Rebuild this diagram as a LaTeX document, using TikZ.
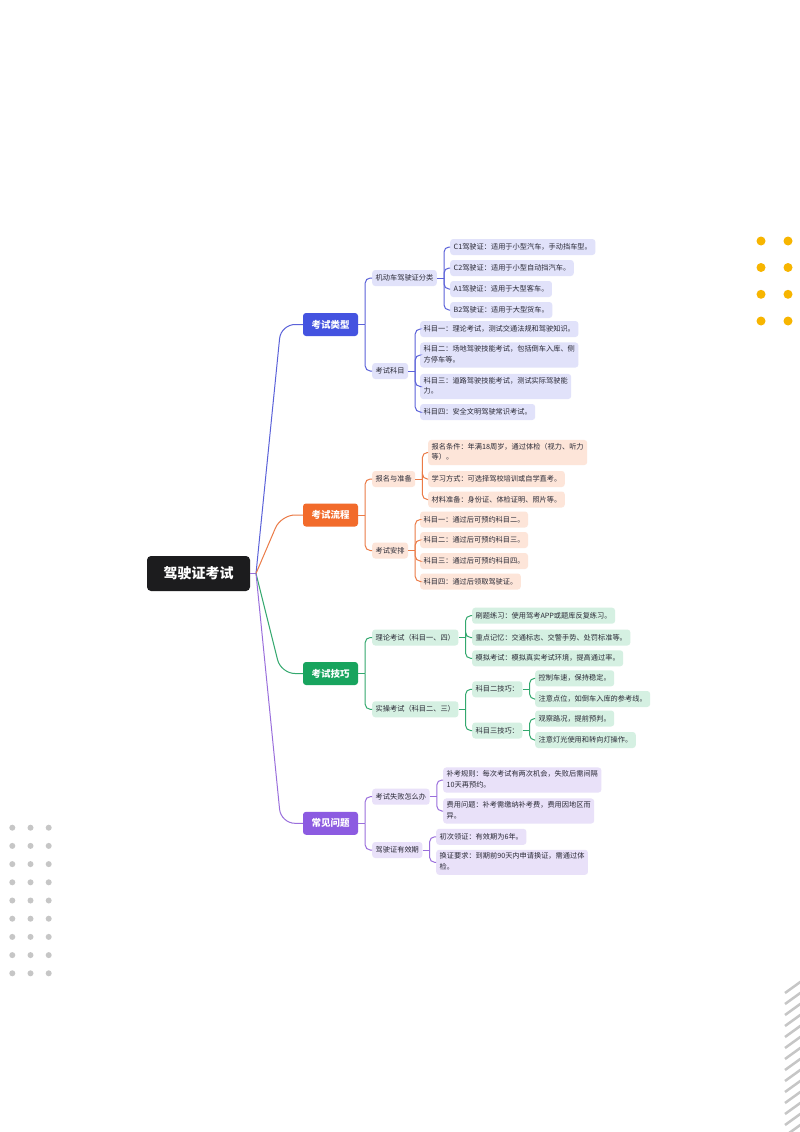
\documentclass[tikz,border=0pt]{standalone}
\usepackage{fontspec}
\setmainfont{Noto Sans CJK SC}
\usetikzlibrary{calc}
\definecolor{rootc}{HTML}{1C1C1E}
\definecolor{txt}{HTML}{2A2A36}
\definecolor{cB}{HTML}{4453E0}
\definecolor{cBl}{HTML}{5B62D9}
\definecolor{cBf}{HTML}{E1E2FA}
\definecolor{cO}{HTML}{F26B2B}
\definecolor{cOl}{HTML}{EB7B47}
\definecolor{cOf}{HTML}{FDE5D9}
\definecolor{cG}{HTML}{18A45E}
\definecolor{cGl}{HTML}{33A86E}
\definecolor{cGf}{HTML}{D5F0E2}
\definecolor{cP}{HTML}{8C5BE1}
\definecolor{cPl}{HTML}{9A6FDC}
\definecolor{cPf}{HTML}{E9E1F9}
\definecolor{dotY}{HTML}{F7B500}
\definecolor{dotG}{HTML}{C6C6C6}
\newcommand\lstrut{\rule[-2.5pt]{0pt}{10pt}}
\tikzset{
  rootbox/.style={fill=rootc, text=white, rounded corners=4pt, minimum width=103pt, minimum height=35pt, inner sep=0pt, font=\fontsize{14}{16}\selectfont\bfseries},
  lone/.style={rounded corners=3pt, minimum width=55pt, minimum height=23pt, inner sep=0pt, text=white, font=\fontsize{9.5}{11}\selectfont\bfseries},
  leaf/.style={rounded corners=3pt, anchor=west, align=left, inner xsep=3.5pt, inner ysep=3pt, text=txt, font=\fontsize{7.2}{10.5}\selectfont, execute at begin node=\lstrut, execute at end node=\lstrut},
  bl/.style={leaf, fill=cBf},
  ol/.style={leaf, fill=cOf},
  gl/.style={leaf, fill=cGf},
  pl/.style={leaf, fill=cPf},
  conn/.style={line width=1pt},
  elbow/.style={line width=1pt, rounded corners=5pt},
  rootconn/.style={line width=1pt, rounded corners=14pt},
}
\begin{document}
\begin{tikzpicture}[x=1pt,y=-1pt]
\useasboundingbox (0,0) rectangle (800,1132);
\fill[white] (0,0) rectangle (800,1132);

% decorations
\foreach \yy in {241,267.5,294.3,321}{
  \foreach \xx in {761,788}{ \fill[dotY] (\xx,\yy) circle (4.5pt); }
}
\foreach \i in {0,...,8}{
  \foreach \xx in {12.3,30.5,48.7}{ \fill[dotG] (\xx,{827.7+18.2*\i}) circle (3pt); }
}
\begin{scope}
\clip (770,970) rectangle (800,1132);
\foreach \i in {0,...,13}{
  \draw[dotG, line width=2.5pt] (785,{993+11*\i}) -- (803,{980+11*\i});
}
\end{scope}

% root
\node[rootbox] (root) at (198.5,573.5) {驾驶证考试};
\coordinate (rj) at (256,573.5);
\draw[conn, cPl] (root.east) -- (rj);

% level 1
\node[lone, fill=cB] (t1) at (330.5,324.5) {考试类型};
\node[lone, fill=cO] (t2) at (330.5,515) {考试流程};
\node[lone, fill=cG] (t3) at (330.5,673.5) {考试技巧};
\node[lone, fill=cP] (t4) at (330.5,823.3) {常见问题};

\draw[rootconn, cBl] (rj) -- (281,324.5) -- (t1.west);
\draw[rootconn, cOl] (rj) -- (281,515) -- (t2.west);
\draw[rootconn, cGl] (rj) -- (281,673.5) -- (t3.west);
\draw[rootconn, cPl] (rj) -- (281,823.3) -- (t4.west);

% ===== blue =====
\node[bl] (t1a) at (372,278) {机动车驾驶证分类};
\node[bl] (t1b) at (372,371) {考试科目};
\node[bl] (t1a1) at (450,247) {C1驾驶证：适用于小型汽车，手动挡车型。};
\node[bl] (t1a2) at (450,268) {C2驾驶证：适用于小型自动挡汽车。};
\node[bl] (t1a3) at (450,289) {A1驾驶证：适用于大型客车。};
\node[bl] (t1a4) at (450,310) {B2驾驶证：适用于大型货车。};
\node[bl] (t1b1) at (420,329) {科目一：理论考试，测试交通法规和驾驶知识。};
\node[bl] (t1b2) at (420,355) {科目二：场地驾驶技能考试，包括倒车入库、侧\\方停车等。};
\node[bl] (t1b3) at (420,386.5) {科目三：道路驾驶技能考试，测试实际驾驶能\\力。};
\node[bl] (t1b4) at (420,412) {科目四：安全文明驾驶常识考试。};

\coordinate (j1) at ($(t1.east)+(7,0)$);
\draw[conn, cBl] (t1.east) -- (j1);
\foreach \c in {t1a,t1b}{ \draw[elbow, cBl] (j1) |- (\c.west); }
\coordinate (j1a) at ($(t1a.east)+(7,0)$);
\draw[conn, cBl] (t1a.east) -- (j1a);
\foreach \c in {t1a1,t1a2,t1a3,t1a4}{ \draw[elbow, cBl] (j1a) |- (\c.west); }
\coordinate (j1b) at ($(t1b.east)+(7,0)$);
\draw[conn, cBl] (t1b.east) -- (j1b);
\foreach \c in {t1b1,t1b2,t1b3,t1b4}{ \draw[elbow, cBl] (j1b) |- (\c.west); }

% ===== orange =====
\node[ol] (t2a) at (372,479) {报名与准备};
\node[ol] (t2b) at (372,550.5) {考试安排};
\node[ol] (t2a1) at (428,452.5) {报名条件：年满18周岁，通过体检（视力、听力\\等）。};
\node[ol] (t2a2) at (428,479) {学习方式：可选择驾校培训或自学直考。};
\node[ol] (t2a3) at (428,499.5) {材料准备：身份证、体检证明、照片等。};
\node[ol] (t2b1) at (420,519.5) {科目一：通过后可预约科目二。};
\node[ol] (t2b2) at (420,540) {科目二：通过后可预约科目三。};
\node[ol] (t2b3) at (420,561) {科目三：通过后可预约科目四。};
\node[ol] (t2b4) at (420,581.5) {科目四：通过后领取驾驶证。};

\coordinate (j2) at ($(t2.east)+(7,0)$);
\draw[conn, cOl] (t2.east) -- (j2);
\foreach \c in {t2a,t2b}{ \draw[elbow, cOl] (j2) |- (\c.west); }
\coordinate (j2a) at ($(t2a.east)+(7,0)$);
\draw[conn, cOl] (t2a.east) -- (j2a);
\foreach \c in {t2a1,t2a2,t2a3}{ \draw[elbow, cOl] (j2a) |- (\c.west); }
\coordinate (j2b) at ($(t2b.east)+(7,0)$);
\draw[conn, cOl] (t2b.east) -- (j2b);
\foreach \c in {t2b1,t2b2,t2b3,t2b4}{ \draw[elbow, cOl] (j2b) |- (\c.west); }

% ===== green =====
\node[gl] (t3a) at (372,637.5) {理论考试（科目一、四）};
\node[gl] (t3b) at (372,709.3) {实操考试（科目二、三）};
\node[gl] (t3a1) at (472,615.7) {刷题练习：使用驾考APP或题库反复练习。};
\node[gl] (t3a2) at (472,637.5) {重点记忆：交通标志、交警手势、处罚标准等。};
\node[gl] (t3a3) at (472,658.3) {模拟考试：模拟真实考试环境，提高通过率。};
\node[gl] (t3b1) at (472,689.3) {科目二技巧：};
\node[gl] (t3b2) at (472,730.5) {科目三技巧：};
\node[gl] (t3b11) at (535,678.3) {控制车速，保持稳定。};
\node[gl] (t3b12) at (535,699) {注意点位，如倒车入库的参考线。};
\node[gl] (t3b21) at (535,718.5) {观察路况，提前预判。};
\node[gl] (t3b22) at (535,740) {注意灯光使用和转向灯操作。};

\coordinate (j3) at ($(t3.east)+(7,0)$);
\draw[conn, cGl] (t3.east) -- (j3);
\foreach \c in {t3a,t3b}{ \draw[elbow, cGl] (j3) |- (\c.west); }
\coordinate (j3a) at ($(t3a.east)+(7,0)$);
\draw[conn, cGl] (t3a.east) -- (j3a);
\foreach \c in {t3a1,t3a2,t3a3}{ \draw[elbow, cGl] (j3a) |- (\c.west); }
\coordinate (j3b) at ($(t3b.east)+(7,0)$);
\draw[conn, cGl] (t3b.east) -- (j3b);
\foreach \c in {t3b1,t3b2}{ \draw[elbow, cGl] (j3b) |- (\c.west); }
\coordinate (j3b1) at ($(t3b1.east)+(7,0)$);
\draw[conn, cGl] (t3b1.east) -- (j3b1);
\foreach \c in {t3b11,t3b12}{ \draw[elbow, cGl] (j3b1) |- (\c.west); }
\coordinate (j3b2) at ($(t3b2.east)+(7,0)$);
\draw[conn, cGl] (t3b2.east) -- (j3b2);
\foreach \c in {t3b21,t3b22}{ \draw[elbow, cGl] (j3b2) |- (\c.west); }

% ===== purple =====
\node[pl] (t4a) at (372,796.7) {考试失败怎么办};
\node[pl] (t4b) at (372,850) {驾驶证有效期};
\node[pl] (t4a1) at (443,780) {补考规则：每次考试有两次机会，失败后需间隔\\10天再预约。};
\node[pl] (t4a2) at (443,811) {费用问题：补考需缴纳补考费，费用因地区而\\异。};
\node[pl] (t4b1) at (436,836.8) {初次领证：有效期为6年。};
\node[pl] (t4b2) at (436,862.3) {换证要求：到期前90天内申请换证，需通过体\\检。};

\coordinate (j4) at ($(t4.east)+(7,0)$);
\draw[conn, cPl] (t4.east) -- (j4);
\foreach \c in {t4a,t4b}{ \draw[elbow, cPl] (j4) |- (\c.west); }
\coordinate (j4a) at ($(t4a.east)+(7,0)$);
\draw[conn, cPl] (t4a.east) -- (j4a);
\foreach \c in {t4a1,t4a2}{ \draw[elbow, cPl] (j4a) |- (\c.west); }
\coordinate (j4b) at ($(t4b.east)+(7,0)$);
\draw[conn, cPl] (t4b.east) -- (j4b);
\foreach \c in {t4b1,t4b2}{ \draw[elbow, cPl] (j4b) |- (\c.west); }
\end{tikzpicture}
\end{document}
